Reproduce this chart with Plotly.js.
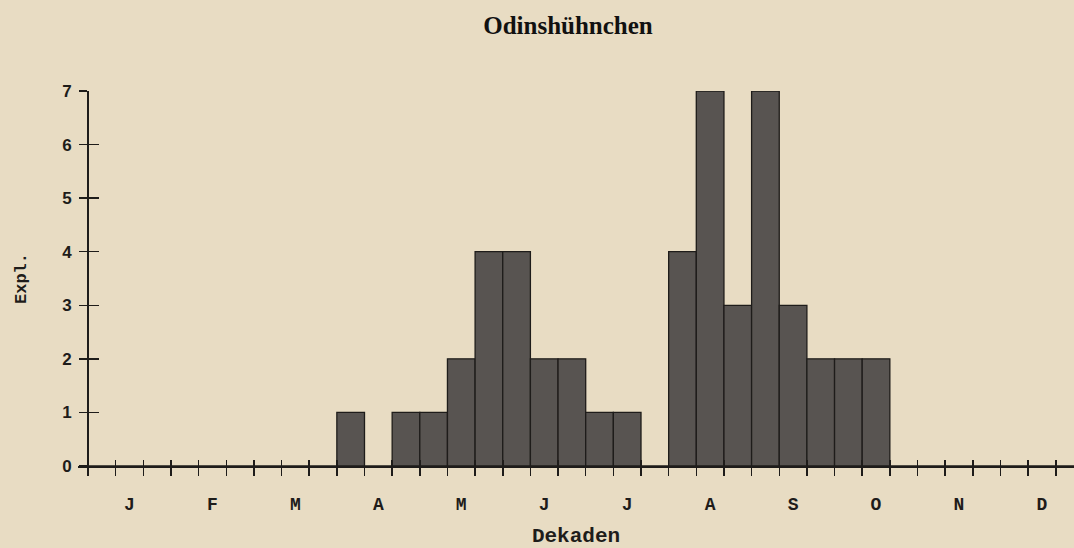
<!DOCTYPE html>
<html>
<head>
<meta charset="utf-8">
<script src="https://cdn.plot.ly/plotly-3.0.1.min.js"></script>
<style>html,body{margin:0;padding:0;background:#e8dcc3;}#chart{width:1074px;height:548px;}</style>
</head>
<body>
<div id="chart"></div>
<script>
// Months (3 Dekaden each)
const months = ['J','F','M','A','M','J','J','A','S','O','N','D'];
// Count of individuals (Expl.) per Dekade, 36 Dekaden Jan..Dec
const counts = [
  0,0,0,  0,0,0,  0,0,0,   // J F M
  1,0,1,  1,2,4,  4,2,2,   // A M J
  1,1,0,  4,7,3,  7,3,2,   // J A S
  2,2,0,  0,0,0,  0,0,0    // O N D
];
const yTicks = [0,1,2,3,4,5,6,7];

const dekadeIdx = counts.map((_, i) => i + 0.5);
const dekadeBounds = counts.map((_, i) => i);
const monthCenters = months.map((_, i) => i * 3 + 1.5);

const ink = '#1e1c1a';
const tickFont = {family: 'Liberation Mono, Courier New, monospace', size: 18, color: ink, weight: 'bold'};
const yFont = {family: 'Liberation Sans, Arial, sans-serif', size: 17, color: ink, weight: 'bold'};

const W = 1074, ml = 78, x0px = 88, unit = 27.65;
const plotW = W - ml;
const xr = [-(x0px - ml) / unit, (W - x0px) / unit];
const yPos = (x0px - ml) / plotW;

const data = [{
  type: 'bar',
  x: dekadeIdx,
  y: counts,
  width: 1,
  marker: {color: '#585451', line: {color: ink, width: 1.3}},
  hoverinfo: 'x+y'
}, {
  type: 'scatter', mode: 'markers', x: [null], y: [null], xaxis: 'x2', yaxis: 'y2',
  hoverinfo: 'skip', showlegend: false
}];

const layout = {
  width: 1074, height: 548,
  margin: {l: ml, r: 0, t: 91, b: 82},
  paper_bgcolor: '#e8dcc3',
  plot_bgcolor: 'rgba(0,0,0,0)',
  showlegend: false,
  bargap: 0,
  title: {
    text: 'Odinshühnchen',
    x: 568 / 1074, xanchor: 'center', xref: 'container',
    y: 1 - 25 / 548, yanchor: 'middle', yref: 'container',
    font: {family: 'Liberation Serif, Times New Roman, serif', size: 25, color: '#111', weight: 'bold'}
  },
  xaxis: {
    range: xr, fixedrange: true,
    tickmode: 'array', tickvals: monthCenters, ticktext: months,
    ticks: 'outside', ticklen: 20, tickcolor: 'rgba(0,0,0,0)',
    minor: {tickmode: 'array', tickvals: dekadeBounds, ticks: 'outside', ticklen: 8, tickwidth: 1.5, tickcolor: ink},
    tickfont: tickFont,
    showline: true, linecolor: ink, linewidth: 2,
    showgrid: false, zeroline: false,
    title: {text: 'Dekaden', font: {family: 'Liberation Mono, Courier New, monospace', size: 21, color: ink, weight: 'bold'}, standoff: 17}
  },
  xaxis2: {
    range: xr, overlaying: 'x', anchor: 'y', side: 'bottom',
    tickmode: 'array', tickvals: dekadeBounds, ticks: 'inside', ticklen: 6, tickwidth: 1.5, tickcolor: ink,
    showticklabels: false, showline: false, showgrid: false, zeroline: false
  },
  yaxis: {
    range: [0, 7], fixedrange: true,
    anchor: 'free', position: yPos,
    tickmode: 'array', tickvals: yTicks,
    ticks: 'outside', ticklen: 8, tickwidth: 1.5, tickcolor: ink,
    ticklabelstandoff: 4,
    tickfont: yFont,
    showline: true, linecolor: ink, linewidth: 2,
    showgrid: false, zeroline: false,
    title: {text: 'Expl.', font: {family: 'Liberation Mono, Courier New, monospace', size: 17, color: ink, weight: 'bold'}, standoff: 30}
  },
  yaxis2: {
    range: [0, 7], overlaying: 'y', anchor: 'free', position: yPos, side: 'left',
    tickmode: 'array', tickvals: yTicks, ticks: 'inside', ticklen: 10, tickwidth: 1.5, tickcolor: ink,
    showticklabels: false, showline: false, showgrid: false, zeroline: false
  }
};

Plotly.newPlot('chart', data, layout, {displayModeBar: false, staticPlot: true});
</script>
</body>
</html>
